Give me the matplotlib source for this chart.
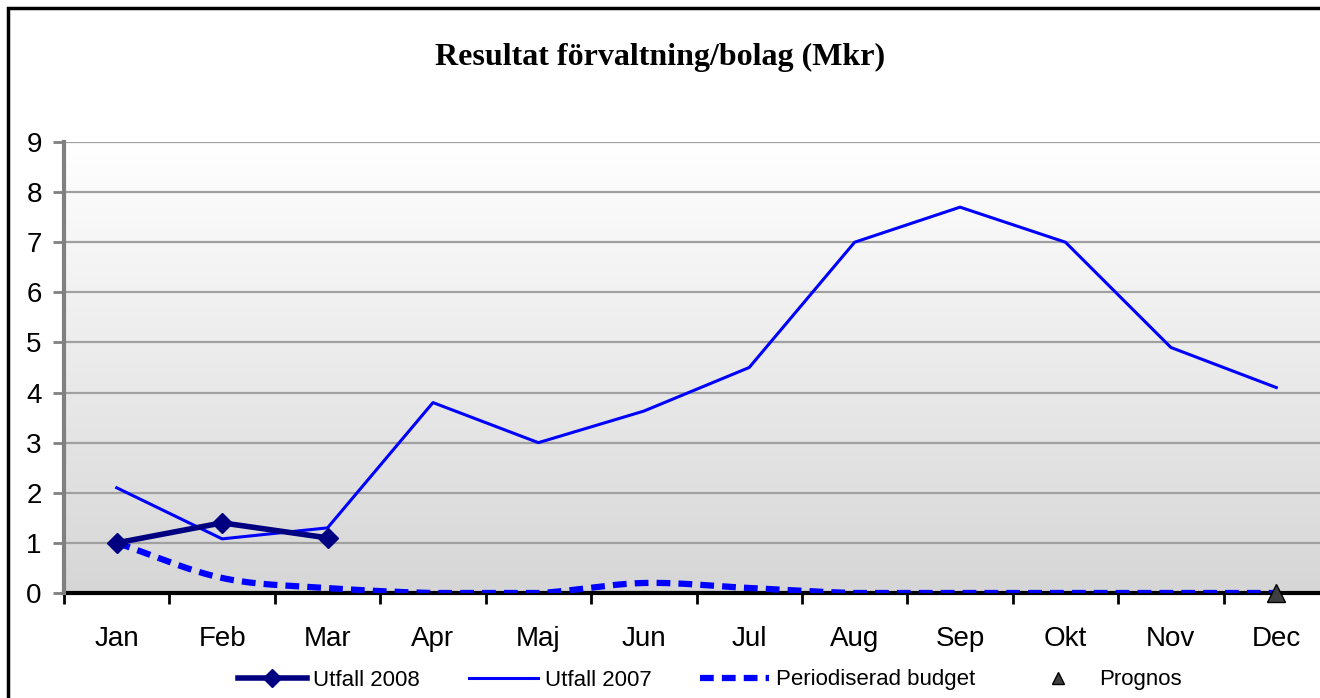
import numpy as np
import matplotlib
matplotlib.use("Agg")
import matplotlib.pyplot as plt
from matplotlib.lines import Line2D
from matplotlib.patches import Rectangle
from matplotlib.colors import LinearSegmentedColormap

months = ["Jan", "Feb", "Mar", "Apr", "Maj", "Jun", "Jul", "Aug", "Sep", "Okt", "Nov", "Dec"]
utfall_2008 = [1.0, 1.4, 1.1]
utfall_2007 = [2.1, 1.08, 1.3, 3.8, 3.0, 3.63, 4.5, 7.0, 7.7, 7.0, 4.9, 4.1]
budget = [1.0, 0.3, 0.1, 0.0, 0.0, 0.2, 0.1, 0.0, 0.0, 0.0, 0.0, 0.0]
prognos_month = "Dec"
prognos_value = 0.0
yticks = list(range(0, 10))

def catmull_rom(x, y, n=30):
    x = np.asarray(x, float); y = np.asarray(y, float)
    px = np.concatenate([[2 * x[0] - x[1]], x, [2 * x[-1] - x[-2]]])
    py = np.concatenate([[2 * y[0] - y[1]], y, [2 * y[-1] - y[-2]]])
    xs, ys = [], []
    for i in range(1, len(px) - 2):
        t = np.linspace(0, 1, n, endpoint=False)
        for P, out in ((px, xs), (py, ys)):
            p0, p1, p2, p3 = P[i - 1], P[i], P[i + 1], P[i + 2]
            out.extend(0.5 * ((2 * p1) + (-p0 + p2) * t + (2 * p0 - 5 * p1 + 4 * p2 - p3) * t ** 2
                              + (-p0 + 3 * p1 - 3 * p2 + p3) * t ** 3))
    xs.append(x[-1]); ys.append(y[-1])
    return np.array(xs), np.array(ys)

fig = plt.figure(figsize=(13.2, 6.98), dpi=100)
fig.patch.set_facecolor("white")
fig.add_artist(Rectangle((8 / 1320, -0.05), 1.2, (690 / 698) + 0.05, transform=fig.transFigure,
                         fill=False, edgecolor="black", linewidth=2.5))

ax = fig.add_axes([64 / 1320, 105 / 698, 1265 / 1320, 451 / 698])
ax.set_xlim(0, 12)
ax.set_ylim(0, 9)

grad = np.linspace(0, 1, 256).reshape(-1, 1)
cmap = LinearSegmentedColormap.from_list("g", ["#d6d6d6", "#ffffff"])
ax.imshow(grad, aspect="auto", cmap=cmap, extent=[0, 12, 0, 9], origin="lower", zorder=0)

for v in yticks[1:]:
    ax.axhline(v, color="#a0a0a0", lw=1.6, zorder=1)

xpos = np.arange(len(months)) + 0.5

ax.plot(xpos[:len(utfall_2007)], utfall_2007, color="#0000ff", lw=2.2, zorder=4)
bx, by = catmull_rom(xpos, budget)
by = np.maximum(by, 0.0)
ax.plot(bx, by, color="#0000ff", lw=4.5, dashes=(2.2, 1.3), zorder=3, solid_capstyle="butt")
ax.plot(xpos[:len(utfall_2008)], utfall_2008, color="#000080", lw=4, marker="D", markersize=10,
        markerfacecolor="#000080", markeredgecolor="#000080", zorder=5)
pi = months.index(prognos_month)
ax.plot([xpos[pi]], [prognos_value], marker="^", markersize=13, color="#404040",
        markeredgecolor="black", linestyle="none", zorder=6, clip_on=False)

ax.set_yticks(yticks)
ax.set_yticklabels([str(v) for v in yticks])
ax.set_xticks(np.arange(0, 13))
ax.set_xticklabels([])
ax.set_xticks(xpos, minor=True)
ax.set_xticklabels(months, minor=True)
ax.tick_params(axis="x", which="minor", length=0, pad=24, labelsize=20)
ax.tick_params(axis="x", which="major", direction="out", length=8, width=2, color="black")
ax.tick_params(axis="y", direction="out", length=8, width=2, color="#808080", labelsize=20, pad=8)
for lab in ax.get_xticklabels(minor=True) + ax.get_yticklabels():
    lab.set_fontfamily("Liberation Sans")

ax.spines["top"].set_visible(False)
ax.spines["right"].set_visible(False)
ax.spines["left"].set_color("#808080")
ax.spines["left"].set_linewidth(3)
ax.spines["bottom"].set_color("black")
ax.spines["bottom"].set_linewidth(3)
ax.spines["bottom"].set_zorder(2)

fig.text(660 / 1320, 1 - 57 / 698, "Resultat förvaltning/bolag (Mkr)", ha="center", va="center",
         fontsize=23, fontweight="bold", family="Liberation Serif")

handles = [
    Line2D([], [], color="#000080", lw=4, marker="D", markersize=9),
    Line2D([], [], color="#0000ff", lw=2.2),
    Line2D([], [], color="#0000ff", lw=4.5, dashes=(2.2, 1.3)),
    Line2D([], [], color="#404040", marker="^", markersize=9, markeredgecolor="black", linestyle="none"),
]
labels = ["Utfall 2008", "Utfall 2007", "Periodiserad budget", "Prognos"]
fig.legend(handles, labels, loc="center", bbox_to_anchor=(710 / 1320, 1 - 680 / 698), ncol=4,
           frameon=False, prop={"family": "Liberation Sans", "size": 16}, handlelength=3.1,
           columnspacing=2.2, handletextpad=0.3)

fig.savefig("out.png", dpi=100)
